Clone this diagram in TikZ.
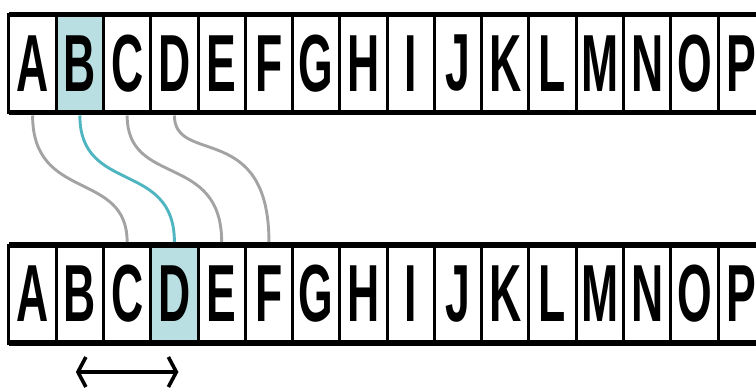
\documentclass[tikz,border=0pt]{standalone}
\usepackage{fontspec}
\setmainfont{Liberation Sans}
\usepackage{graphicx}
\usetikzlibrary{arrows.meta, positioning}

\definecolor{hlfill}{HTML}{B9DFE3}
\definecolor{hlline}{HTML}{4FB5C0}
\definecolor{linkgray}{HTML}{A3A3A3}

\newcommand{\cellltr}[1]{\scalebox{0.55}[1]{#1}}

\begin{document}
\begin{tikzpicture}[
  x=1pt, y=-1pt,
  cell/.style={draw, line width=3pt, minimum width=47.27pt, minimum height=98pt,
    inner sep=0pt, outer sep=0pt, font=\fontsize{81}{81}\selectfont\bfseries},
  hl/.style={fill=hlfill},
  bar/.style={line width=5.5pt},
  link/.style={line width=2.9pt, linkgray, shorten <=3pt, shorten >=3pt},
  hllink/.style={link, hlline},
  span/.style={{Straight Barb[length=8pt,width=30pt]}-{Straight Barb[length=8pt,width=30pt]},
    line width=3.6pt, shorten <=-4pt, shorten >=-4pt}
]
  \clip (0,0) rectangle (756,388);

  % two rows of letter cells
  \foreach \l [count=\i from 0] in {A,B,C,D,E,F,G,H,I,J,K,L,M,N,O,P} {
    \node[cell] (t\l) at (32.6+47.27*\i, 63.5) {\cellltr{\l}};
    \node[cell] (b\l) at (32.6+47.27*\i, 294) {\cellltr{\l}};
  }
  \node[cell, hl] (tB) at (tB) {\cellltr{B}};
  \node[cell, hl] (bD) at (bD) {\cellltr{D}};

  \draw[bar] (tA.north west) -- ++(760,0);
  \draw[bar] (tA.south west) -- ++(760,0);
  \draw[bar] (bA.north west) -- ++(760,0);
  \draw[bar] (bA.south west) -- ++(760,0);

  % shifted links
  \draw[link] (tA.south) .. controls +(0,90) and +(0,-75) .. (bC.north);
  \draw[link] (tC.south) .. controls +(0,75) and +(0,-93) .. (bE.north);
  \draw[link] (tD.south) .. controls +(0,53) and +(0,-125) .. (bF.north);
  \draw[hllink] (tB.south) .. controls +(0,82) and +(0,-85) .. (bD.north);

  % shift width
  \coordinate[below=29pt of bB.south] (arrL);
  \coordinate[below=29pt of bD.south] (arrR);
  \draw[span] (arrL) -- (arrR);
\end{tikzpicture}
\end{document}
